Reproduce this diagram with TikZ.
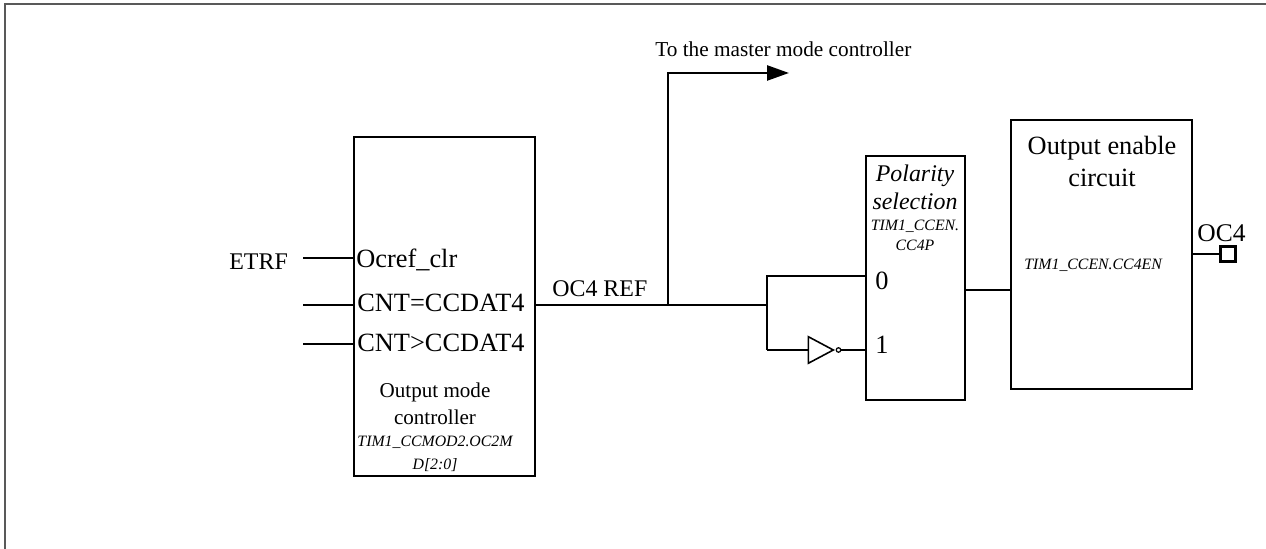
\documentclass[tikz,border=0pt]{standalone}
\usepackage{fontspec}
\setmainfont{Liberation Serif}
\usetikzlibrary{arrows.meta,shapes.geometric}
\newcommand{\fs}[1]{\fontsize{#1}{#1}\selectfont}

\begin{document}
\begin{tikzpicture}[x=1cm, y=1cm,
  every node/.style={inner sep=0pt},
  block/.style={draw, line width=1.4pt, minimum width=3.62cm},
  wire/.style={line width=1.4pt},
  thin wire/.style={line width=1.1pt},
  pin/.style={anchor=base west, font=\fs{15}},
  lab/.style={anchor=base west, font=\fs{13.6}},
  mid/.style={anchor=base, font=\fs{12}},
  reg/.style={anchor=base, font=\fs{9}\itshape}]
  \useasboundingbox (0,0) rectangle (25.32,10.98);
  \draw[gray!70!black, line width=0.7pt] (25.32,10.9) -- (0.1,10.9) -- (0.1,0);

  \node[block, minimum height=6.78cm] (mode) at (8.89,4.85) {};
  \node[block, minimum width=1.98cm, minimum height=4.88cm] (pol) at (18.31,5.42) {};
  \node[block, minimum height=5.38cm] (enable) at (22.03,5.89) {};
  \node[isosceles triangle, isosceles triangle apex angle=56, draw, line width=0.9pt, anchor=apex,
    minimum height=0.5cm] (inv) at (16.7,3.98) {};
  \node[circle, draw, line width=0.7pt, minimum size=0.09cm] (bub) at (16.77,3.98) {};
  \node[draw, line width=1.4pt, minimum size=0.3cm] (oc) at (24.56,5.9) {};

  \node[lab] (etrf) at (4.58,5.58) {ETRF};
  \node[pin] (clr) at (7.12,5.62) {Ocref\_clr};
  \node[pin] (eq) at (7.14,4.74) {CNT=CCDAT4};
  \node[pin] (gt) at (7.14,3.94) {CNT>CCDAT4};
  \node[mid] (mname) at (8.70,3.02) {Output mode};
  \node[mid] (mnameb) at (8.70,2.48) {controller};
  \node[reg] (mreg) at (8.70,2.04) {TIM1\_CCMOD2.OC2M};
  \node[reg] (mregb) at (8.70,1.58) {D[2:0]};
  \node[lab] (ref) at (11.04,5.04) {OC4 REF};
  \node[anchor=base west, font=\fs{12.1}] (master) at (13.1,9.84) {To the master mode controller};
  \node[mid, font=\fs{13.6}\itshape] (pname) at (18.3,7.34) {Polarity};
  \node[mid, font=\fs{13.6}\itshape] (pnameb) at (18.3,6.78) {selection};
  \node[reg] (preg) at (18.3,6.36) {TIM1\_CCEN.};
  \node[reg] (pregb) at (18.3,5.96) {CC4P};
  \node[pin] (zero) at (17.5,5.18) {0};
  \node[pin] (one) at (17.5,3.9) {1};
  \node[mid, font=\fs{15}] (ename) at (22.04,7.88) {Output enable};
  \node[mid, font=\fs{15}] (enameb) at (22.04,7.24) {circuit};
  \node[reg, anchor=base west] (ereg) at (20.48,5.58) {TIM1\_CCEN.CC4EN};
  \node[pin, font=\fs{14.5}] (octext) at (23.94,6.14) {OC4};

  \coordinate (inclr) at (6.06,5.82);
  \coordinate (ineq) at (6.06,4.88);
  \coordinate (ingt) at (6.06,4.10);
  \coordinate (tap) at (13.36,4.88);
  \coordinate (fork) at (15.34,4.88);
  \coordinate (corner) at (13.36,9.52);
  \coordinate (tip) at (15.78,9.52);
  \coordinate (forka) at (15.34,5.46);
  \coordinate (forkb) at (15.34,3.98);

  \draw[wire] (inclr) -- (inclr -| mode.west);
  \draw[wire] (ineq) -- (ineq -| mode.west);
  \draw[wire] (ingt) -- (ingt -| mode.west);
  \draw[wire] (tap -| mode.east) -- (fork);
  \draw[wire, -{Triangle[length=0.44cm, width=0.3cm]}] (tap) -- (corner) -- (tip);
  \draw[wire] (forkb) -- (forka) -- (forka -| pol.west);
  \draw[thin wire] (forkb) -- (inv.west |- forkb);
  \draw[thin wire] (bub) -- (bub -| pol.west);
  \draw[wire] (pol.east |- 0,5.18) -- (enable.west |- 0,5.18);
  \draw[wire] (enable.east |- oc) -- (oc.west);
\end{tikzpicture}
\end{document}
